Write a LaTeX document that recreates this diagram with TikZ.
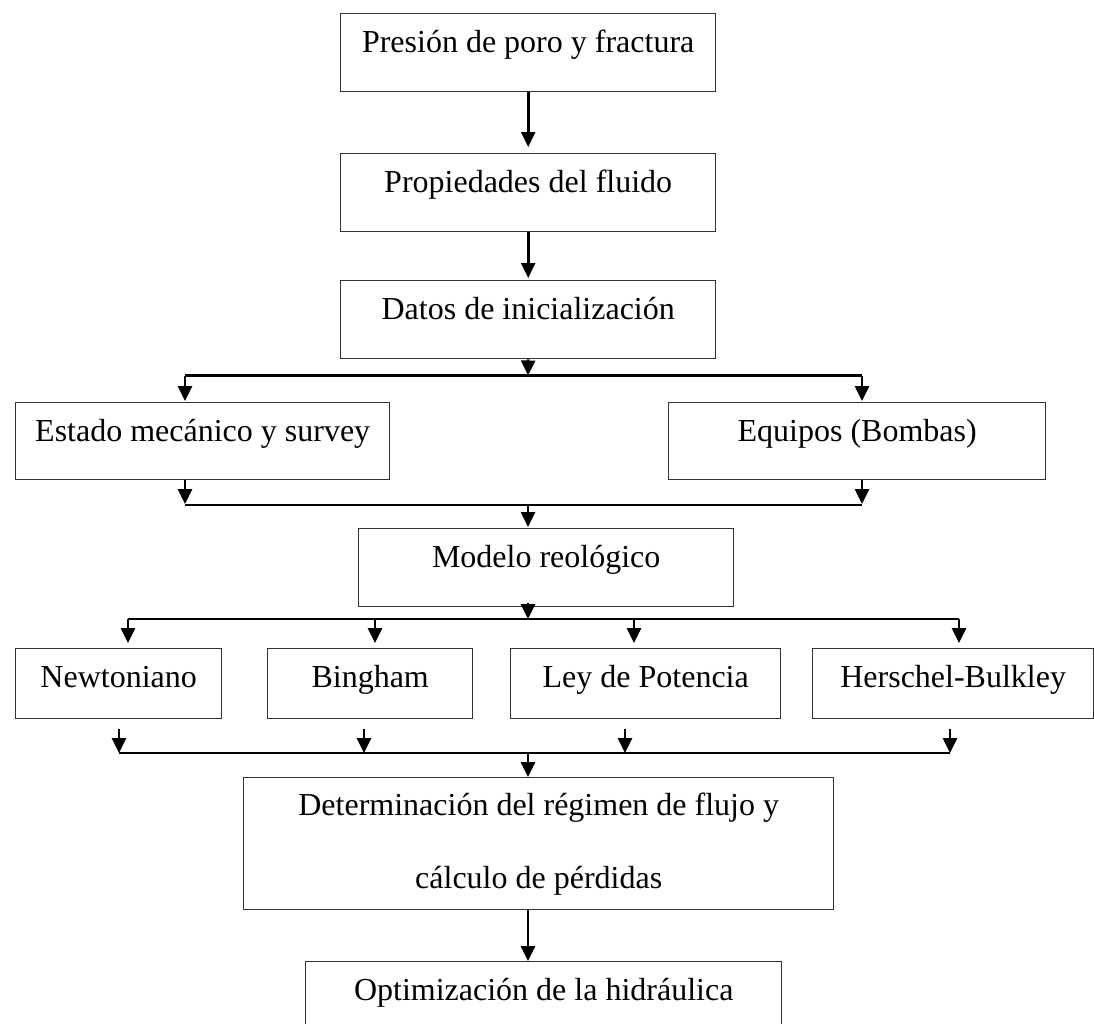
\documentclass[tikz,border=0pt]{standalone}
\usepackage{fontspec}
\setmainfont{Liberation Serif}
\usetikzlibrary{arrows.meta}
\begin{document}
\begin{tikzpicture}[x=1pt,y=-1pt,
  every node/.style={font=\fontsize{32}{38}\selectfont},
  bx/.style 2 args={draw=black!80, line width=1.4pt, anchor=north west,
    inner xsep=0pt, inner ysep=0pt, minimum width=#1, text height=39pt, text depth=#2},
  arr/.style={line width=2.6pt, -{Triangle[length=15pt,width=14pt]}},
  ln/.style={line width=2.8pt}
]
\useasboundingbox (0,0) rectangle (1094,1023);
\clip (0,0) rectangle (1094,1023);

% boxes
\node[bx={375pt}{39pt}] (b1) at (340,13) {Presión de poro y fractura};
\node[bx={375pt}{39pt}] (b2) at (340,153) {Propiedades del fluido};
\node[bx={375pt}{39pt}] (b3) at (340,280) {Datos de inicialización};
\node[bx={374pt}{38pt}] (estado) at (15,402) {Estado mecánico y survey};
\node[bx={377pt}{38pt}] (equipos) at (668,402) {Equipos (Bombas)};
\node[bx={375pt}{39pt}] (modelo) at (358,528) {Modelo reológico};
\node[bx={206pt}{31pt}] (newt) at (15,648) {Newtoniano};
\node[bx={205pt}{31pt}] (bing) at (267,648) {Bingham};
\node[bx={270pt}{31pt}] (ley) at (510,648) {Ley de Potencia};
\node[bx={281pt}{31pt}] (hb) at (812,648) {Herschel-Bulkley};
\node[bx={590pt}{94pt}, text height=38pt] (det) at (243,777)
  {\begin{tabular}[t]{@{}c@{}}Determinación del régimen de flujo y\\[35pt]cálculo de pérdidas\end{tabular}};
\node[bx={476pt}{51pt}] (opt) at (305,961) {Optimización de la hidráulica};

% top chain
\draw[arr] (b1.south) -- ([yshift=6pt]b2.north);
\draw[arr] (b2.south) -- ([yshift=2pt]b3.north);

% split to estado / equipos
\coordinate (j1) at (528,375.5);
\coordinate (jL) at (185,375.5);
\coordinate (jR) at (862,375.5);
\draw[arr] (b3.south) -- (j1);
\draw[ln] (jL) -- (jR);
\draw[arr] (jL) -- ([yshift=1pt]jL |- estado.north);
\draw[arr] (jR) -- ([yshift=1pt]jR |- equipos.north);

% merge to modelo
\coordinate (k) at (528,505);
\draw[arr] (jL |- estado.south) -- ([yshift=1pt]k -| jL);
\draw[arr] (jR |- equipos.south) -- ([yshift=1pt]k -| jR);
\draw[ln] (k -| jL) -- (k -| jR);
\draw[arr] (k) -- ([yshift=1pt]k |- modelo.north);

% split to models
\coordinate (m) at (528,619);
\coordinate (r1) at (128,619);
\coordinate (r2) at (375,619);
\coordinate (r3) at (634,619);
\coordinate (r4) at (959,619);
\draw[arr] ([yshift=4pt]m |- modelo.south) -- (m);
\draw[ln] (r1) -- (r4);
\draw[arr] (r1) -- ([yshift=5pt]r1 |- newt.north);
\draw[arr] (r2) -- ([yshift=5pt]r2 |- bing.north);
\draw[arr] (r3) -- ([yshift=5pt]r3 |- ley.north);
\draw[arr] (r4) -- ([yshift=5pt]r4 |- hb.north);

% merge to det
\coordinate (s) at (528,753);
\coordinate (q1) at (119,753);
\coordinate (q2) at (364,753);
\coordinate (q3) at (625,753);
\coordinate (q4) at (950,753);
\draw[arr, shorten <=10pt] (q1 |- newt.south) -- (q1);
\draw[arr, shorten <=10pt] (q2 |- bing.south) -- (q2);
\draw[arr, shorten <=10pt] (q3 |- ley.south) -- (q3);
\draw[arr, shorten <=10pt] (q4 |- hb.south) -- (q4);
\draw[ln] (q1) -- (q4);
\draw[arr] (s) -- (s |- det.north);

% det to opt
\draw[arr] (s |- det.south) -- (s |- opt.north);
\end{tikzpicture}
\end{document}
